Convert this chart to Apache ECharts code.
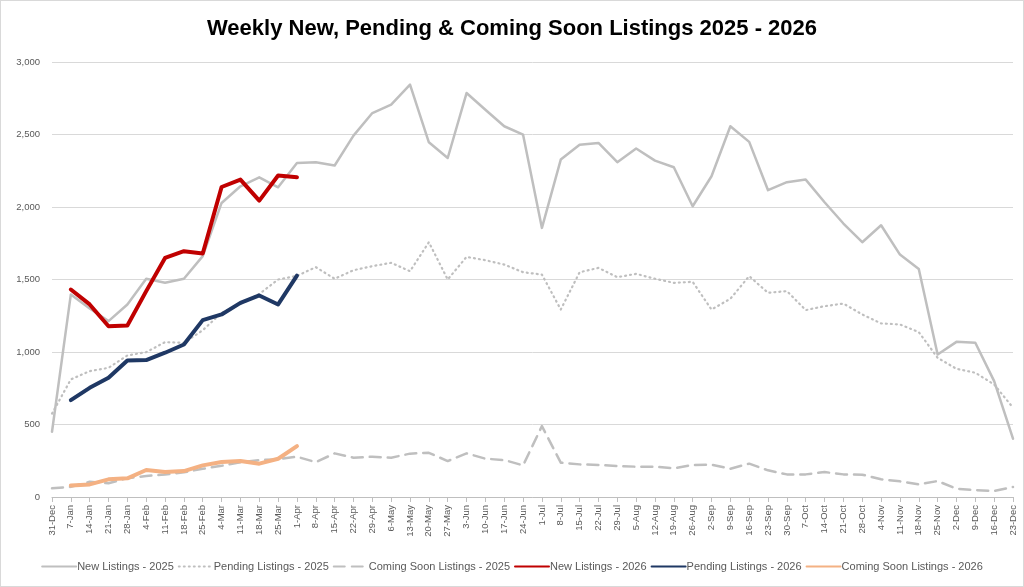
<!DOCTYPE html>
<html>
<head>
<meta charset="utf-8">
<script src="https://cdn.jsdelivr.net/npm/echarts@6/dist/echarts.min.js"></script>
<style>
html,body{margin:0;padding:0;background:#fff;}
#wrap{position:absolute;left:0;top:0;width:1022px;height:585px;border:1px solid #d9d9d9;}
#chart{width:1022px;height:585px;}
</style>
</head>
<body>
<div id="wrap"><div id="chart"></div></div>
<script>
const categories = ['31-Dec','7-Jan','14-Jan','21-Jan','28-Jan','4-Feb','11-Feb','18-Feb','25-Feb','4-Mar','11-Mar','18-Mar','25-Mar','1-Apr','8-Apr','15-Apr','22-Apr','29-Apr','6-May','13-May','20-May','27-May','3-Jun','10-Jun','17-Jun','24-Jun','1-Jul','8-Jul','15-Jul','22-Jul','29-Jul','5-Aug','12-Aug','19-Aug','26-Aug','2-Sep','9-Sep','16-Sep','23-Sep','30-Sep','7-Oct','14-Oct','21-Oct','28-Oct','4-Nov','11-Nov','18-Nov','25-Nov','2-Dec','9-Dec','16-Dec','23-Dec'];

const newListings2025 = [450,1397,1300,1213,1328,1505,1477,1505,1661,2028,2143,2205,2136,2304,2309,2286,2492,2648,2706,2844,2446,2338,2786,2671,2557,2499,1856,2327,2430,2442,2309,2403,2320,2274,2005,2212,2557,2449,2116,2171,2189,2033,1886,1757,1874,1672,1573,983,1070,1064,799,402];
const pendingListings2025 = [575,811,868,891,976,999,1068,1063,1150,1270,1330,1400,1500,1525,1585,1505,1564,1592,1615,1557,1757,1500,1656,1633,1603,1550,1534,1293,1550,1580,1516,1539,1505,1477,1484,1293,1367,1523,1408,1420,1289,1316,1334,1259,1197,1190,1137,960,884,857,776,616];
const comingSoon2025 = [60,70,105,95,130,145,155,170,195,215,240,255,260,278,240,301,271,278,271,299,305,248,301,264,255,218,489,237,225,221,214,209,209,198,221,223,195,230,184,156,156,172,156,154,122,108,87,110,57,48,41,69];

const newListings2026 = [null,1431,1328,1178,1183,1420,1649,1695,1679,2138,2189,2044,2217,2205];
const pendingListings2026 = [null,668,753,822,942,944,995,1052,1220,1259,1339,1390,1328,1527];
const comingSoon2026 = [null,80,87,122,129,186,172,179,218,241,248,230,264,351];

const yTicks = {min:0, max:3000, interval:500};

const chart = echarts.init(document.getElementById('chart'));
function s(name, data, color, width, type){
  return {name, type:'line', data, symbol:'none', showSymbol:false, connectNulls:false,
    lineStyle:{color, width, type, cap:'round', join:'round'}, itemStyle:{color}, emphasis:{disabled:true}};
}
chart.setOption({
  animation:false,
  title:{text:'Weekly New, Pending & Coming Soon Listings 2025 - 2026', left:'center', top:12,
    textStyle:{fontFamily:'Liberation Sans Narrow, Liberation Sans', fontWeight:'bold', fontSize:22, color:'#000'}},
  grid:{left:51, right:10, top:61, bottom:89, containLabel:false},
  legend:{bottom:9, left:'center', itemWidth:34, itemHeight:4, itemGap:4,
    itemStyle:{opacity:0},
    textStyle:{fontFamily:'Liberation Sans Narrow, Liberation Sans', fontSize:11, color:'#595959', padding:[0,0,0,-4]},
    data:['New Listings - 2025','Pending Listings - 2025','Coming Soon Listings - 2025','New Listings - 2026','Pending Listings - 2026','Coming Soon Listings - 2026']},
  xAxis:{type:'category', data:categories, boundaryGap:false,
    axisLine:{lineStyle:{color:'#bfbfbf'}},
    axisTick:{show:true, interval:0, length:5, lineStyle:{color:'#bfbfbf'}},
    axisLabel:{interval:0, rotate:90, fontSize:9.5, color:'#595959', fontFamily:'Liberation Sans', margin:8},
    splitLine:{show:false}},
  yAxis:{type:'value', min:yTicks.min, max:yTicks.max, interval:yTicks.interval,
    axisLine:{show:false}, axisTick:{show:false},
    axisLabel:{fontSize:9.5, color:'#595959', fontFamily:'Liberation Sans', margin:12,
      formatter:v=>v.toLocaleString('en-US')},
    splitLine:{lineStyle:{color:'#d9d9d9', width:1}}},
  series:[
    s('New Listings - 2025', newListings2025, '#bfbfbf', 2.5, 'solid'),
    s('Pending Listings - 2025', pendingListings2025, '#bfbfbf', 2.2, [1,4]),
    s('Coming Soon Listings - 2025', comingSoon2025, '#bfbfbf', 2.5, [11,7]),
    s('New Listings - 2026', newListings2026, '#c00000', 4, 'solid'),
    s('Pending Listings - 2026', pendingListings2026, '#1f3864', 4, 'solid'),
    s('Coming Soon Listings - 2026', comingSoon2026, '#f4b183', 4, 'solid')
  ]
});
</script>
</body>
</html>
